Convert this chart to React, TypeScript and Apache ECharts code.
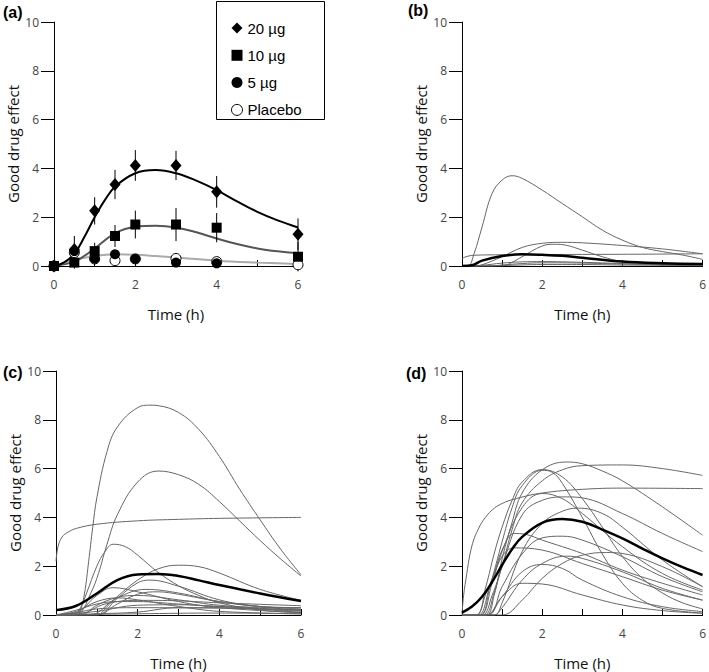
import React, { useEffect, useRef } from "react";
import * as echarts from "echarts";

// ---------- Panel (a): observed means ----------
const obsTimes = [0, 0.5, 1, 1.5, 2, 3, 4, 6];
const obs20 = [0, 0.68, 2.26, 3.34, 4.12, 4.12, 3.04, 1.3];
const err20 = [0, 0.55, 0.56, 0.6, 0.63, 0.6, 0.65, 0.65];
const obs10 = [0, 0.14, 0.61, 1.23, 1.7, 1.7, 1.57, 0.38];
const err10 = [0, 0.25, 0.34, 0.45, 0.57, 0.68, 0.6, 0.6];
const obs5 = [0, 0.61, 0.3, 0.48, 0.29, 0.14, 0.11, -0.03];
const obsPlacebo = [0, 0.55, 0.29, 0.22, 0.29, 0.31, 0.18, 0.05];

// Panel (a) model fits
const fit20 = [[0,0],[0.25,0.15],[0.5,0.5],[0.75,1.2],[1,2.0],[1.25,2.7],[1.5,3.25],[2,3.8],[2.5,3.93],[3,3.8],[3.5,3.5],[4,3.11],[4.5,2.65],[5,2.22],[5.5,1.87],[6,1.58]];
const fit10 = [[0,0],[0.5,0.18],[0.75,0.42],[1,0.72],[1.5,1.34],[2,1.61],[2.5,1.65],[3,1.58],[3.5,1.38],[4,1.13],[4.5,0.9],[5,0.72],[5.5,0.6],[6,0.52]];
const fit5 = [[0,0],[0.5,0.25],[1,0.41],[1.5,0.48],[2,0.46],[2.5,0.41],[3,0.35],[4,0.22],[5,0.14],[6,0.08]];

// ---------- Panel (b) ----------
const bMean = [[0,0],[0.25,0.03],[0.5,0.22],[1,0.41],[1.5,0.48],[2,0.46],[2.5,0.42],[3,0.34],[4,0.18],[5,0.11],[6,0.08]];
const bCurves = [
  [[0,0],[0.15,0],[0.3,0.5],[0.5,1.6],[0.75,2.97],[1,3.52],[1.25,3.7],[1.5,3.59],[2,3.11],[2.5,2.56],[3,2.02],[3.5,1.47],[4,1.06],[4.5,0.76],[5,0.59],[5.5,0.45],[6,0.27]],
  [[0,0],[0.3,0],[0.5,0.05],[1,0.38],[1.5,0.76],[2,0.93],[2.5,0.97],[3,0.95],[4,0.84],[5,0.7],[6,0.5]],
  [[0,0.3],[0.1,0.38],[0.3,0.44],[1,0.46],[2,0.47],[4,0.48],[6,0.5]],
  [[0,0],[1,0],[1.25,0.15],[1.5,0.38],[2,0.82],[2.3,0.89],[2.6,0.85],[3,0.65],[3.5,0.38],[4,0.18],[5,0.05],[6,0.01]],
  [[0,0],[0.5,0.03],[1,0.12],[1.5,0.17],[2,0.18],[3,0.15],[4,0.1],[5,0.06],[6,0.04]],
  [[0,0],[0.7,0],[1,0.04],[1.5,0.1],[2,0.13],[3,0.12],[4,0.08],[6,0.03]],
  [[0,0],[1,0.02],[2,0.06],[3,0.06],[4,0.04],[6,0.02]],
];

// ---------- Panel (c) ----------
const cMean = [[0,0.2],[0.5,0.38],[1,0.88],[1.5,1.43],[2,1.66],[2.5,1.68],[3,1.6],[3.5,1.42],[4,1.23],[5,0.88],[6,0.57]];
const cCurves = [
  [[0,0],[0.5,0],[0.6,0.2],[0.7,0.9],[0.8,2.2],[0.9,3.6],[1,4.8],[1.25,6.7],[1.5,7.7],[2,8.5],[2.3,8.6],[2.5,8.58],[3,8.3],[3.5,7.6],[4,6.5],[4.5,5.15],[5,3.9],[5.5,2.7],[6,1.65]],
  [[0,0],[0.5,0],[0.65,0.2],[0.8,0.7],[1,1.5],[1.25,2.9],[1.5,4.1],[2,5.45],[2.5,5.9],[3,5.75],[3.5,5.35],[4,4.65],[4.5,3.85],[5,3.05],[5.5,2.3],[6,1.6]],
  [[0,2.2],[0.05,2.8],[0.15,3.2],[0.3,3.4],[0.5,3.55],[1,3.72],[2,3.86],[3,3.92],[4,3.96],[6,4.0]],
  [[0,0],[0.45,0],[0.6,0.3],[0.75,0.9],[1,2.0],[1.2,2.6],[1.4,2.9],[1.7,2.8],[2,2.45],[2.5,1.75],[3,1.2],[3.5,0.8],[4,0.5],[5,0.2],[6,0.1]],
  [[0,0],[1,0],[1.25,0.35],[1.5,0.75],[2,1.43],[2.5,1.89],[3,2.04],[3.5,1.98],[4,1.72],[5,1.05],[6,0.6]],
  [[0,0],[1,0],[1.5,0.68],[2,1.32],[2.3,1.43],[3,1.18],[4,0.62],[5,0.34],[6,0.2]],
  [[0,0],[0.5,0.1],[1,0.8],[1.4,1.12],[2,0.95],[3,0.55],[4,0.3],[6,0.1]],
  [[0,0],[0.8,0],[1.5,0.7],[2.2,1.05],[3,0.9],[4,0.55],[5,0.35],[6,0.25]],
  [[0,0],[1,0],[1.5,0.45],[2,0.85],[2.5,0.95],[3,0.85],[4,0.55],[5,0.35],[6,0.3]],
  [[0,0],[0.6,0],[1,0.4],[1.5,0.72],[2,0.8],[3,0.62],[4,0.4],[6,0.18]],
  [[0,0],[0.6,0.05],[1.2,0.45],[2,0.6],[3,0.58],[4,0.5],[6,0.38]],
  [[0,0],[0.5,0.2],[1,0.45],[1.5,0.55],[2,0.55],[3,0.45],[4,0.35],[6,0.3]],
  [[0,0],[1,0.15],[2,0.4],[3,0.42],[4,0.35],[6,0.15]],
  [[0,0],[0.5,0.1],[1,0.25],[2,0.3],[4,0.28],[6,0.22]],
  [[0,0],[1,0.05],[2,0.12],[3,0.3],[4,0.3],[6,0.1]],
  [[0,0],[2,0.05],[4,0.08],[6,0.05]],
  [[0,0],[0.5,0.15],[1,0.55],[1.5,0.7],[2,0.62],[3,0.35],[4,0.15],[6,0.05]],
];

// ---------- Panel (d) ----------
const dMean = [[0,0.1],[0.25,0.35],[0.5,0.75],[0.75,1.35],[1,2.05],[1.25,2.7],[1.5,3.2],[2,3.78],[2.5,3.93],[3,3.82],[3.5,3.5],[4,3.14],[4.5,2.72],[5,2.32],[5.5,1.96],[6,1.64]];
const dCurves = [
  [[0,0],[0.04,0.8],[0.12,1.7],[0.2,2.5],[0.29,3.07],[0.4,3.5],[0.53,3.88],[0.75,4.3],[1,4.57],[1.35,4.77],[2,5.0],[3,5.15],[4,5.2],[6,5.18]],
  [[0,0],[0.5,0],[0.75,0.8],[1,2.0],[1.25,3.5],[1.5,4.6],[2,5.5],[2.5,5.95],[3,6.12],[4,6.15],[5,6.0],[6,5.72]],
  [[0,0],[0.6,0],[0.8,0.8],[1,2.3],[1.25,3.8],[1.5,5.0],[2,5.95],[2.6,6.27],[3,6.2],[3.5,5.9],[4,5.5],[5,4.43],[6,3.27]],
  [[0,0],[0.35,0],[0.6,1.2],[0.8,2.5],[1,3.6],[1.25,4.7],[1.5,5.45],[2,5.96],[2.5,5.66],[3,4.77],[3.5,3.6],[4,2.4],[4.5,1.5],[5,0.9],[5.5,0.5],[6,0.25]],
  [[0,0],[0.45,0],[0.7,1.2],[1,3.0],[1.25,4.4],[1.5,5.3],[2,5.93],[2.25,5.85],[2.5,5.4],[3,4.0],[3.5,2.5],[4,1.3],[4.5,0.6],[5,0.27],[6,0.08]],
  [[0,0],[0.55,0],[0.8,0.9],[1,2.0],[1.5,4.1],[2,4.7],[2.6,4.84],[3,4.8],[4,4.16],[5,3.34],[6,2.6]],
  [[0,0],[0.45,0],[0.75,1.3],[1,2.6],[1.5,4.4],[2,4.98],[2.5,4.77],[3,4.16],[4,2.8],[5,1.7],[6,1.02]],
  [[0,0],[0.8,0],[1,0.5],[1.5,2.6],[2,3.75],[2.5,4.25],[2.9,4.38],[3.5,4.16],[4,3.6],[5,2.25],[6,1.16]],
  [[0,0],[0.35,0],[0.6,0.9],[0.8,1.7],[1,2.66],[1.3,3.34],[1.6,3.3],[2,3.07],[3,2.52],[4,1.84],[5,1.3],[6,0.82]],
  [[0,0],[0.65,0],[1,1.16],[1.5,2.5],[2,3.16],[2.5,3.23],[3,3.07],[4,2.39],[5,1.57],[6,0.95]],
  [[0,0],[0.4,0],[0.7,1.2],[1,2.4],[1.3,2.75],[2,2.66],[3,2.11],[4,1.57],[5,1.02],[6,0.61]],
  [[0,0],[1,0],[1.5,0.61],[2,1.5],[2.5,2.11],[3,2.45],[3.6,2.56],[4,2.52],[5,1.98],[6,1.16]],
  [[0,0],[0.8,0],[1,0.3],[1.5,1.43],[2,2.11],[2.6,2.41],[3,2.32],[4,1.77],[5,1.09],[6,0.61]],
  [[0,0],[0.6,0],[1,0.75],[1.5,1.77],[2,2.07],[2.5,1.91],[3,1.43],[4,0.75],[5,0.34],[6,0.14]],
  [[0,0],[0.6,0],[1,0.75],[1.5,1.3],[2,1.27],[3,0.82],[4,0.41],[5,0.18],[6,0.07]],
];

const xTicks = [0, 2, 4, 6];
const legendNames = ["20 µg", "10 µg", "5 µg", "Placebo"];
const panelLabels = ["(a)", "(b)", "(c)", "(d)"];

const SANS = "'Open Sans', 'Noto Sans', sans-serif";
const ARIAL = "'Liberation Sans', Arial, sans-serif";

const grids = [
  { left: 54, top: 22, width: 244, height: 244 },
  { left: 462, top: 22, width: 244, height: 244 },
  { left: 56, top: 371, width: 245, height: 244 },
  { left: 462, top: 371, width: 244, height: 244 },
];

function xAxis(gridIndex: number) {
  return {
    type: "value", gridIndex, min: 0, max: 6, interval: 1,
    name: "Time (h)", nameLocation: "middle", nameGap: 40,
    nameTextStyle: { fontFamily: SANS, fontSize: 15, color: "#111" },
    axisLine: { show: true, onZero: false, lineStyle: { color: "#000", width: 1 } },
    axisTick: { show: true, inside: true, length: 6, lineStyle: { color: "#000" } },
    axisLabel: {
      margin: 12, fontFamily: SANS, fontSize: 12, color: "#444",
      formatter: (v: number) => (xTicks.includes(v) ? String(v) : ""),
    },
    splitLine: { show: false },
  };
}
function yAxis(gridIndex: number) {
  return {
    type: "value", gridIndex, min: 0, max: 10, interval: 2,
    name: "Good drug effect", nameLocation: "middle", nameGap: 34,
    nameTextStyle: { fontFamily: SANS, fontSize: 15, color: "#111" },
    axisLine: { show: true, lineStyle: { color: "#000", width: 1 } },
    axisTick: { show: true, inside: false, length: 13, lineStyle: { color: "#000" } },
    axisLabel: { margin: 15, fontFamily: SANS, fontSize: 12, color: "#444" },
    splitLine: { show: false },
  };
}
function line(idx: number, data: number[][], color: string, width: number, z = 2) {
  return {
    type: "line", xAxisIndex: idx, yAxisIndex: idx, data,
    smooth: 0.4, showSymbol: false, symbol: "none", z,
    lineStyle: { color, width }, silent: true,
  };
}
function pts(vals: number[]) {
  return obsTimes.map((t, i) => [t, vals[i]]);
}
function bars(vals: number[], errs: number[]) {
  return obsTimes.map((t, i) => [t, vals[i] - errs[i], vals[i] + errs[i]]).filter((_, i) => errs[i] > 0);
}

export default function App() {
  const ref = useRef<HTMLDivElement>(null);
  useEffect(() => {
    const chart = echarts.init(ref.current!, null, { renderer: "svg" });
    const series: any[] = [];
    series.push(line(0, fit5, "#aaaaaa", 2));
    series.push(line(0, fit10, "#555555", 2));
    series.push(line(0, fit20, "#000000", 2));
    const errSeries = (vals: number[], errs: number[]) => ({
      type: "custom", xAxisIndex: 0, yAxisIndex: 0, z: 3, silent: true,
      data: bars(vals, errs),
      renderItem: (params: any, api: any) => {
        const p1 = api.coord([api.value(0), api.value(1)]);
        const p2 = api.coord([api.value(0), api.value(2)]);
        return { type: "line", shape: { x1: p1[0], y1: p1[1], x2: p2[0], y2: p2[1] }, style: { stroke: "#000", lineWidth: 1 } };
      },
    });
    series.push(errSeries(obs20, err20));
    series.push(errSeries(obs10, err10));
    series.push({ type: "scatter", name: legendNames[3], xAxisIndex: 0, yAxisIndex: 0, z: 4, data: pts(obsPlacebo), symbol: "circle", symbolSize: 10, itemStyle: { color: "#fff", borderColor: "#000", borderWidth: 1, opacity: 1 } });
    series.push({ type: "scatter", name: legendNames[2], xAxisIndex: 0, yAxisIndex: 0, z: 5, data: pts(obs5), symbol: "circle", symbolSize: 10, itemStyle: { color: "#000", opacity: 1 } });
    series.push({ type: "scatter", name: legendNames[1], xAxisIndex: 0, yAxisIndex: 0, z: 6, data: pts(obs10), symbol: "rect", symbolSize: 10, itemStyle: { color: "#000", opacity: 1 } });
    series.push({ type: "scatter", name: legendNames[0], xAxisIndex: 0, yAxisIndex: 0, z: 7, data: pts(obs20), symbol: "diamond", symbolSize: [11, 13], itemStyle: { color: "#000", opacity: 1 } });
    bCurves.forEach((c) => series.push(line(1, c, "#666666", 1)));
    series.push(line(1, bMean, "#000000", 2.5, 3));
    cCurves.forEach((c) => series.push(line(2, c, "#666666", 1)));
    series.push(line(2, cMean, "#000000", 2.5, 3));
    dCurves.forEach((c) => series.push(line(3, c, "#666666", 1)));
    series.push(line(3, dMean, "#000000", 2.5, 3));

    const labelPos = [[3, 4], [408, 2], [3, 364], [406, 365]];
    chart.setOption({
      animation: false,
      backgroundColor: "#fff",
      grid: grids,
      xAxis: [0, 1, 2, 3].map(xAxis),
      yAxis: [0, 1, 2, 3].map(yAxis),
      legend: {
        orient: "vertical", left: 226, top: 15.5, itemGap: 12.3, itemWidth: 11, itemHeight: 11,
        itemTextGap: 16, selectedMode: false,
        textStyle: { fontFamily: ARIAL, fontSize: 15, color: "#000", lineHeight: 14 },
        data: [
          { name: legendNames[0], icon: "diamond", itemStyle: { color: "#000" } },
          { name: legendNames[1], icon: "rect", itemStyle: { color: "#000" } },
          { name: legendNames[2], icon: "circle", itemStyle: { color: "#000" } },
          { name: legendNames[3], icon: "circle", itemStyle: { color: "#fff", borderColor: "#000", borderWidth: 1 } },
        ],
      },
      graphic: [
        { type: "rect", left: 214, top: -1, shape: { width: 108, height: 118 }, style: { fill: "none", stroke: "#000", lineWidth: 1 }, z: 1 },
        ...panelLabels.map((t, i) => ({
          type: "text", left: labelPos[i][0], top: labelPos[i][1],
          style: { text: t, font: `bold 16px ${ARIAL}`, fill: "#000" },
        })),
      ],
      series,
    });
    return () => chart.dispose();
  }, []);
  return <div ref={ref} style={{ position: "fixed", left: 0, top: 0, width: 709, height: 672, background: "#fff" }} />;
}
